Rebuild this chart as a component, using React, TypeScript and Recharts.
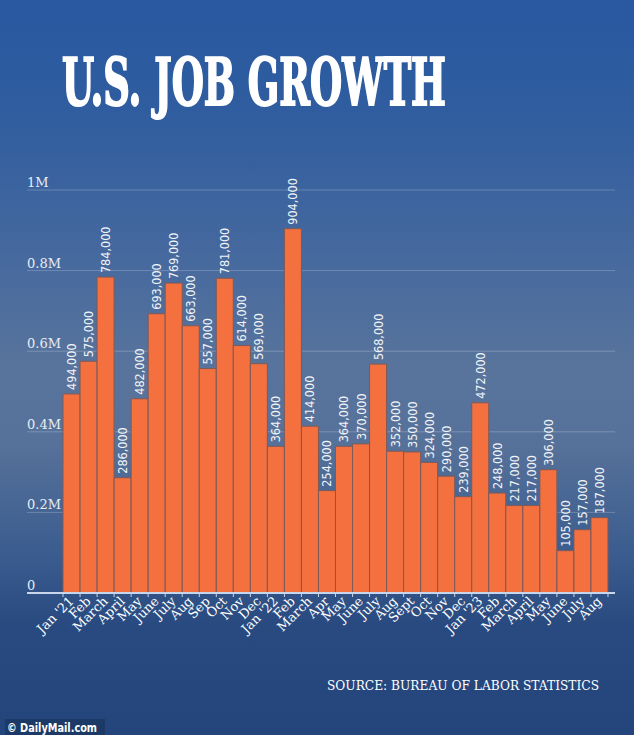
import React from "react";
import { BarChart, Bar, XAxis, YAxis, CartesianGrid, LabelList } from "recharts";

const MONTHS = [
  "Jan '21", "Feb", "March", "April", "May", "June", "July", "Aug", "Sep", "Oct", "Nov", "Dec",
  "Jan '22", "Feb", "March", "Apr", "May", "June", "July", "Aug", "Sept", "Oct", "Nov", "Dec",
  "Jan '23", "Feb", "March", "April", "May", "June", "July", "Aug",
];

const JOBS = [
  494000, 575000, 784000, 286000, 482000, 693000, 769000, 663000, 557000, 781000, 614000, 569000,
  364000, 904000, 414000, 254000, 364000, 370000, 568000, 352000, 350000, 324000, 290000, 239000,
  472000, 248000, 217000, 217000, 306000, 105000, 157000, 187000,
];

const Y_TICKS = [0, 200000, 400000, 600000, 800000, 1000000];
const Y_TICK_LABELS = ["0", "0.2M", "0.4M", "0.6M", "0.8M", "1M"];

const TITLE = "U.S. JOB GROWTH";
const SOURCE = "SOURCE: BUREAU OF LABOR STATISTICS";

const data = MONTHS.map((m, i) => ({ key: `m${i}`, month: m, jobs: JOBS[i] }));

const fmt = (v: number) => v.toLocaleString("en-US");

const SERIF = "'DejaVu Serif', 'Liberation Serif', serif";

const YTick = (props: any) => {
  const { y, payload } = props;
  const idx = Y_TICKS.indexOf(payload.value);
  return (
    <text x={27} y={y - 3} fill="#e8edf5" fontSize={13} fontFamily={SERIF} textAnchor="start">
      {Y_TICK_LABELS[idx]}
    </text>
  );
};

const XTick = (props: any) => {
  const { x, y, index } = props;
  const half = 17.03 / 2;
  const ax = x + 3;
  const ay = y + 1;
  return (
    <g>
      <line x1={x - half} x2={x - half} y1={y - 8} y2={y - 4} stroke="#c9d5ea" strokeWidth={1} />
      {index === MONTHS.length - 1 ? (
        <line x1={x + half} x2={x + half} y1={y - 8} y2={y - 4} stroke="#c9d5ea" strokeWidth={1} />
      ) : null}
      <text
        x={ax}
        y={ay}
        transform={`rotate(-45, ${ax}, ${ay})`}
        textAnchor="end"
        fill="#ffffff"
        fontSize={13}
        fontFamily={SERIF}
      >
        {MONTHS[index]}
      </text>
    </g>
  );
};

const BarLabel = (props: any) => {
  const { x, y, width, value } = props;
  const lx = x + width / 2 + 4.5;
  const ly = y - 4;
  return (
    <text
      x={lx}
      y={ly}
      transform={`rotate(-90, ${lx}, ${ly})`}
      textAnchor="start"
      fill="#f2f4f8"
      fontSize={12.5}
      fontFamily="'DejaVu Sans Condensed', 'DejaVu Sans', sans-serif"
    >
      {fmt(value)}
    </text>
  );
};

export default function App() {
  return (
    <div
      style={{
        position: "absolute",
        left: 0,
        top: 0,
        width: 634,
        height: 735,
        overflow: "hidden",
        background:
          "linear-gradient(to bottom, #2a58a1 0%, #2f5d9f 15%, #46699e 35%, #58749c 50%, #57729a 60%, #3b5d8f 75%, #284a80 85%, #23457b 100%)",
      }}
    >
      <svg width={634} height={735} style={{ position: "absolute", left: 0, top: 0 }}>
        <g transform="translate(62,105) scale(1,1.94)">
          <text
            x={0}
            y={0}
            textLength={384}
            lengthAdjust="spacingAndGlyphs"
            fill="#ffffff"
            stroke="#ffffff"
            strokeWidth={1}
            fontSize={34}
            fontWeight={900}
            fontFamily="'DejaVu Serif Condensed', 'DejaVu Serif', serif"
          >
            {TITLE}
          </text>
        </g>
        <text
          x={327}
          y={690}
          textLength={272}
          lengthAdjust="spacingAndGlyphs"
          fill="#ffffff"
          fontSize={13.5}
          fontFamily={SERIF}
        >
          {SOURCE}
        </text>
        <rect x={5} y={719} width={100} height={16} fill="#1d3a66" />
        <text
          x={7}
          y={732}
          fill="#ffffff"
          fontSize={13}
          fontWeight={700}
          fontFamily="'DejaVu Sans', sans-serif"
          textLength={90}
          lengthAdjust="spacingAndGlyphs"
        >
          © DailyMail.com
        </text>
      </svg>
      <div style={{ position: "absolute", left: 0, top: 0 }}>
        <BarChart
          width={634}
          height={735}
          data={data}
          margin={{ top: 190, right: 19, bottom: 0, left: 27 }}
          barCategoryGap={0}
          barGap={0}
        >
          <CartesianGrid
            horizontal={true}
            vertical={false}
            stroke="rgba(255,255,255,0.22)"
            strokeWidth={1}
          />
          <XAxis
            dataKey="key"
            interval={0}
            padding={{ left: 36, right: 7 }}
            tickLine={false}
            axisLine={{ stroke: "#c9d5ea", strokeWidth: 2 }}
            tick={<XTick />}
            height={142}
          />
          <YAxis
            domain={[0, 1000000]}
            ticks={Y_TICKS}
            width={36}
            mirror={true}
            axisLine={false}
            tickLine={false}
            tick={<YTick />}
            interval={0}
          />
          <Bar dataKey="jobs" fill="#f4703f" stroke="#7e5a58" strokeWidth={1} isAnimationActive={false}>
            <LabelList dataKey="jobs" content={<BarLabel />} />
          </Bar>
        </BarChart>
      </div>
    </div>
  );
}
